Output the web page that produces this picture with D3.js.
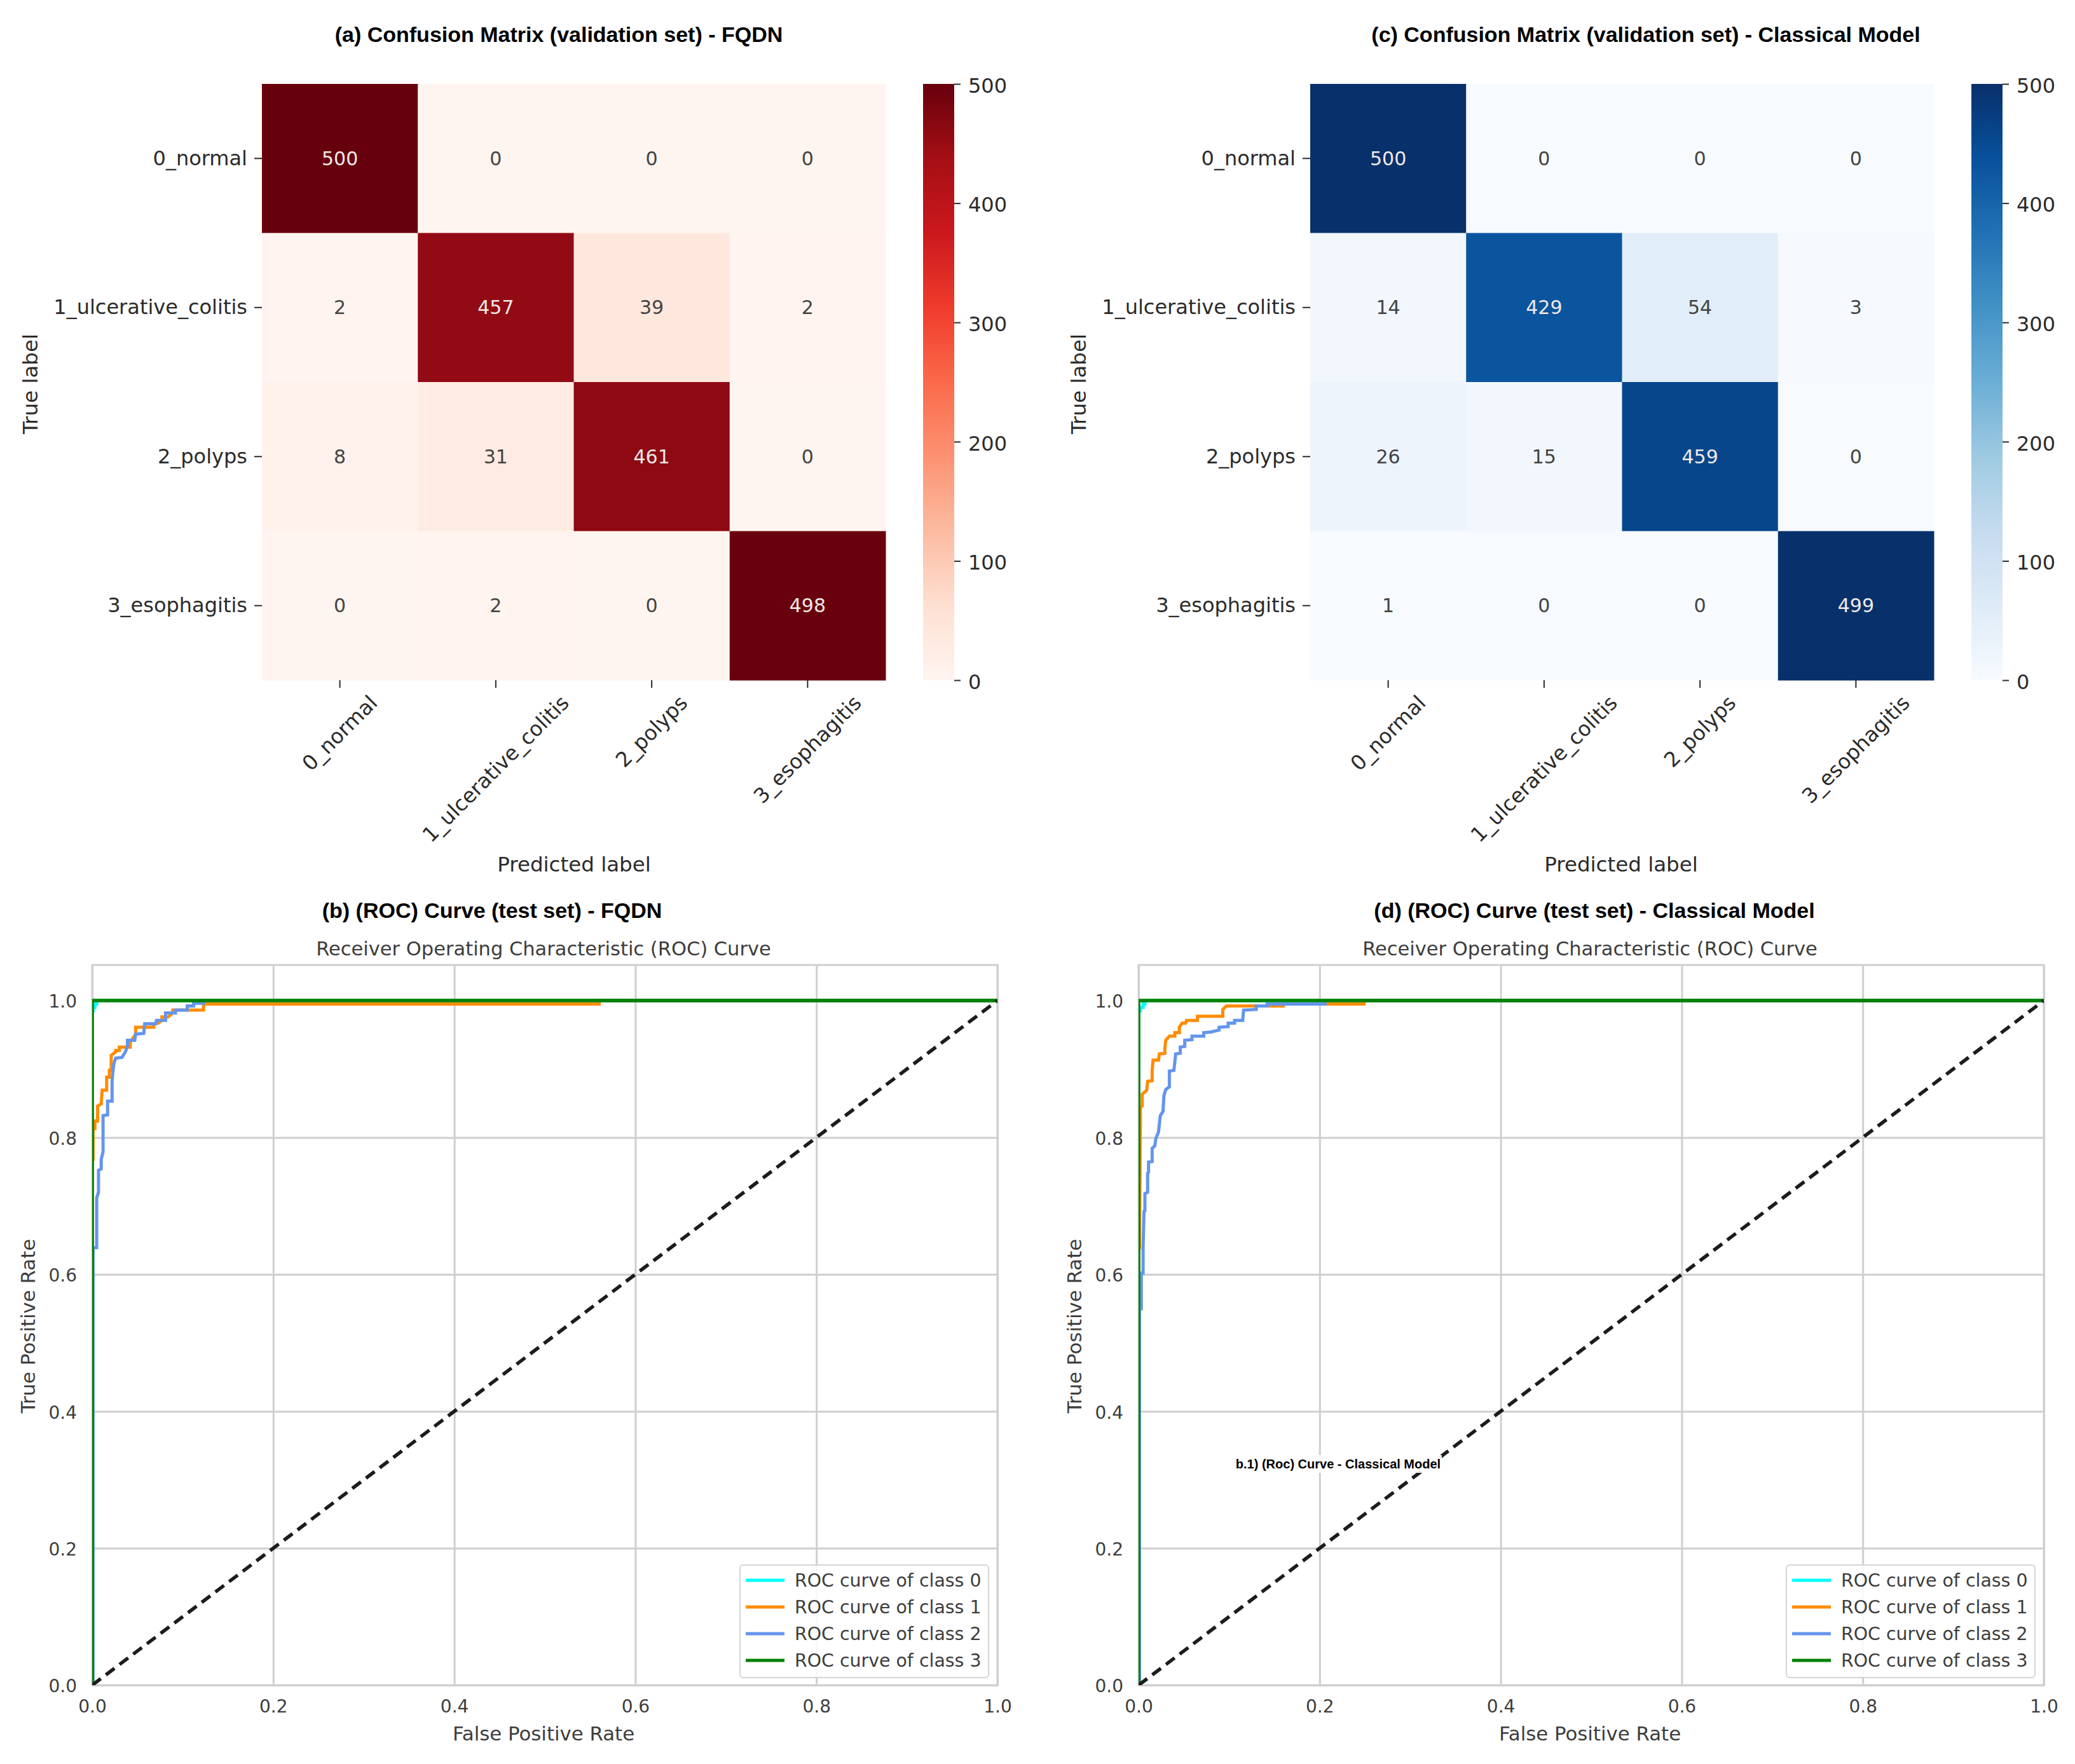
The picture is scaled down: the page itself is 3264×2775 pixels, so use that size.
<!DOCTYPE html>
<html>
<head>
<meta charset="utf-8">
<script src="https://cdnjs.cloudflare.com/ajax/libs/d3/7.8.5/d3.min.js"></script>
<style>
  html, body { margin: 0; padding: 0; background: #fff; }
  text { font-family: "DejaVu Sans", sans-serif; }
  .title { font-family: "Liberation Sans", Arial, sans-serif; font-weight: bold; fill: #000; }
</style>
</head>
<body>
<svg id="chart" width="3264" height="2775"></svg>
<script>
const classNames = ['0_normal', '1_ulcerative_colitis', '2_polyps', '3_esophagitis'];
const matrixFqdn = [
  [500, 0, 0, 0],
  [2, 457, 39, 2],
  [8, 31, 461, 0],
  [0, 2, 0, 498],
];
const matrixClassical = [
  [500, 0, 0, 0],
  [14, 429, 54, 3],
  [26, 15, 459, 0],
  [1, 0, 0, 499],
];
const colorbarTicks = [0, 100, 200, 300, 400, 500];
const rocTicks = [0, 0.2, 0.4, 0.6, 0.8, 1];
const legendLabels = ['ROC curve of class 0', 'ROC curve of class 1', 'ROC curve of class 2', 'ROC curve of class 3'];

// [fpr, tpr] corners
const fqdnClass0 = [[0, 0], [0, 0.985], [0.001, 0.985], [0.001, 0.99], [0.003, 0.99], [0.003, 0.995], [0.005, 0.995], [0.005, 1], [1, 1]];
const fqdnClass1 = [[0, 0], [0, 0.768], [0.001, 0.768], [0.001, 0.813], [0.003, 0.813], [0.003, 0.824], [0.006, 0.824], [0.006, 0.846], [0.01, 0.849], [0.011, 0.869], [0.016, 0.869], [0.016, 0.888], [0.019, 0.888], [0.019, 0.898], [0.021, 0.898], [0.021, 0.92], [0.026, 0.925], [0.026, 0.927], [0.03, 0.927], [0.03, 0.932], [0.042, 0.932], [0.042, 0.939], [0.048, 0.951], [0.048, 0.961], [0.056, 0.961], [0.068, 0.961], [0.068, 0.965], [0.073, 0.967], [0.077, 0.971], [0.077, 0.976], [0.084, 0.976], [0.089, 0.982], [0.089, 0.986], [0.123, 0.986], [0.123, 0.995], [0.56, 0.995], [0.56, 1], [1, 1]];
const fqdnClass2 = [[0, 0], [0.001, 0], [0.001, 0.639], [0.005, 0.639], [0.005, 0.712], [0.007, 0.72], [0.007, 0.752], [0.01, 0.754], [0.01, 0.768], [0.012, 0.779], [0.012, 0.832], [0.017, 0.833], [0.017, 0.853], [0.022, 0.853], [0.022, 0.883], [0.023, 0.898], [0.024, 0.908], [0.026, 0.916], [0.033, 0.917], [0.037, 0.926], [0.039, 0.934], [0.039, 0.942], [0.047, 0.942], [0.048, 0.951], [0.057, 0.952], [0.058, 0.966], [0.07, 0.966], [0.071, 0.971], [0.081, 0.971], [0.081, 0.982], [0.092, 0.982], [0.092, 0.986], [0.105, 0.986], [0.105, 0.992], [0.112, 0.992], [0.112, 0.996], [0.123, 0.996], [0.123, 1], [1, 1]];
const fqdnClass3 = [[0, 0], [0, 1], [1, 1]];

const classicalClass0 = [[0, 0], [0, 0.985], [0.002, 0.985], [0.002, 0.99], [0.005, 0.99], [0.005, 0.995], [0.007, 0.995], [0.007, 1], [1, 1]];
const classicalClass1 = [[0, 0], [0, 0.639], [0.001, 0.639], [0.002, 0.827], [0.002, 0.844], [0.004, 0.846], [0.004, 0.863], [0.009, 0.869], [0.01, 0.882], [0.015, 0.883], [0.015, 0.898], [0.016, 0.913], [0.022, 0.913], [0.023, 0.922], [0.029, 0.923], [0.029, 0.93], [0.03, 0.942], [0.034, 0.948], [0.04, 0.948], [0.04, 0.953], [0.045, 0.953], [0.045, 0.961], [0.048, 0.967], [0.052, 0.967], [0.053, 0.971], [0.065, 0.971], [0.065, 0.977], [0.093, 0.977], [0.093, 0.987], [0.097, 0.992], [0.16, 0.992], [0.16, 0.995], [0.249, 0.995], [0.249, 1], [1, 1]];
const classicalClass2 = [[0, 0], [0.001, 0], [0.001, 0.55], [0.003, 0.55], [0.003, 0.602], [0.005, 0.602], [0.005, 0.641], [0.006, 0.692], [0.007, 0.693], [0.007, 0.718], [0.01, 0.72], [0.01, 0.748], [0.011, 0.749], [0.011, 0.764], [0.015, 0.765], [0.015, 0.784], [0.018, 0.788], [0.019, 0.798], [0.022, 0.808], [0.024, 0.832], [0.027, 0.838], [0.028, 0.861], [0.03, 0.87], [0.034, 0.874], [0.034, 0.897], [0.039, 0.898], [0.041, 0.922], [0.046, 0.923], [0.046, 0.932], [0.051, 0.933], [0.051, 0.942], [0.059, 0.943], [0.059, 0.948], [0.072, 0.948], [0.072, 0.953], [0.08, 0.954], [0.089, 0.957], [0.089, 0.961], [0.099, 0.962], [0.099, 0.967], [0.106, 0.967], [0.106, 0.971], [0.115, 0.971], [0.116, 0.986], [0.13, 0.987], [0.13, 0.992], [0.142, 0.992], [0.142, 0.995], [0.206, 0.995], [0.206, 1], [1, 1]];
const classicalClass3 = [[0, 0], [0, 1], [1, 1]];

const diagonal = [[0, 0], [1, 1]];
const curveColors = ['#00ffff', '#ff8c00', '#6495ed', '#008000'];

const svg = d3.select('#chart');
const textColor = '#2b2b2b';
const rocText = '#3d3d3d';
const gridColor = '#cfcfcf';

function panelTitle(x, y, label, size) {
  svg.append('text').attr('class', 'title')
    .attr('x', x).attr('y', y)
    .attr('text-anchor', 'middle').attr('dominant-baseline', 'central')
    .style('font-size', (size || 34) + 'px')
    .text(label);
}

function heatmap(left, title, titleX, labelX, trueX, matrix, scheme, gradId) {
  const right = left + 981, top = 132, bottom = 1070;
  const cbLeft = left + 1040, cbRight = left + 1089;
  const x = d3.scaleBand().domain(classNames).range([left, right]);
  const y = d3.scaleBand().domain(classNames).range([top, bottom]);
  const color = d3.scaleLinear()
    .domain(d3.range(9).map((i) => (i * 500) / 8))
    .range(scheme);

  panelTitle(titleX, 54, title);

  const g = svg.append('g');
  matrix.forEach((row, r) => {
    row.forEach((v, c) => {
      g.append('rect')
        .attr('x', x(classNames[c]))
        .attr('y', y(classNames[r]))
        .attr('width', x.bandwidth() + 0.5)
        .attr('height', y.bandwidth() + 0.5)
        .attr('fill', color(v));
      g.append('text')
        .attr('x', x(classNames[c]) + x.bandwidth() / 2)
        .attr('y', y(classNames[r]) + y.bandwidth() / 2)
        .attr('text-anchor', 'middle')
        .attr('dominant-baseline', 'central')
        .style('font-size', '30px')
        .attr('fill', v > 250 ? '#f0e8e6' : '#444')
        .text(v);
    });
  });

  const yAxis = svg.append('g')
    .attr('transform', `translate(${left},0)`)
    .call(d3.axisLeft(y).tickSize(12).tickPadding(11));
  yAxis.select('.domain').remove();
  yAxis.selectAll('line').attr('stroke', textColor).attr('stroke-width', 2);
  yAxis.selectAll('text').attr('fill', textColor).style('font-size', '32px');

  const xAxis = svg.append('g')
    .attr('transform', `translate(0,${bottom})`)
    .call(d3.axisBottom(x).tickSize(12).tickFormat(''));
  xAxis.select('.domain').remove();
  xAxis.selectAll('line').attr('stroke', textColor).attr('stroke-width', 2);

  classNames.forEach((name) => {
    const t = svg.append('text')
      .attr('text-anchor', 'middle')
      .attr('dominant-baseline', 'central')
      .attr('fill', textColor)
      .style('font-size', '32.5px')
      .text(name);
    const half = ((t.node().getComputedTextLength() + 34) * Math.SQRT1_2) / 2;
    const cx = x(name) + x.bandwidth() / 2;
    const cy = 1088 + half;
    t.attr('transform', `translate(${cx},${cy}) rotate(-45)`);
  });

  svg.append('text')
    .attr('x', labelX).attr('y', 1360)
    .attr('text-anchor', 'middle').attr('dominant-baseline', 'central')
    .attr('fill', textColor).style('font-size', '32.5px')
    .text('Predicted label');
  svg.append('text')
    .attr('transform', `translate(${trueX},604) rotate(-90)`)
    .attr('text-anchor', 'middle').attr('dominant-baseline', 'central')
    .attr('fill', textColor).style('font-size', '32.5px')
    .text('True label');

  // colorbar
  const grad = svg.append('defs').append('linearGradient')
    .attr('id', gradId)
    .attr('x1', 0).attr('x2', 0).attr('y1', 1).attr('y2', 0);
  d3.range(9).forEach((i) => {
    grad.append('stop')
      .attr('offset', i / 8)
      .attr('stop-color', scheme[i]);
  });
  svg.append('rect')
    .attr('x', cbLeft).attr('y', top)
    .attr('width', cbRight - cbLeft).attr('height', bottom - top)
    .attr('fill', `url(#${gradId})`);
  const cbScale = d3.scaleLinear().domain([0, 500]).range([bottom, top]);
  const cbAxis = svg.append('g')
    .attr('transform', `translate(${cbRight},0)`)
    .call(d3.axisRight(cbScale).tickValues(colorbarTicks).tickSize(10).tickPadding(12).tickFormat(d3.format('d')));
  cbAxis.select('.domain').remove();
  cbAxis.selectAll('line').attr('stroke', textColor).attr('stroke-width', 2);
  cbAxis.selectAll('text').attr('fill', textColor).attr('y', 3).style('font-size', '32px');
}

function rocPanel(left, clipId, title, titleX, curves) {
  const right = left + 1424, top = 1518, bottom = 2651;
  const x = d3.scaleLinear().domain([0, 1]).range([left, right]);
  const y = d3.scaleLinear().domain([0, 1]).range([bottom, 1574]);

  panelTitle(titleX, 1432, title);
  svg.append('text')
    .attr('x', (left + right) / 2 - 2).attr('y', 1492)
    .attr('text-anchor', 'middle').attr('dominant-baseline', 'central')
    .attr('fill', rocText).style('font-size', '30.5px')
    .text('Receiver Operating Characteristic (ROC) Curve');

  const xAxis = svg.append('g')
    .attr('transform', `translate(0,${bottom})`)
    .call(d3.axisBottom(x).tickValues(rocTicks).tickSize(-(bottom - top)).tickPadding(23).tickFormat(d3.format('.1f')));
  const yAxis = svg.append('g')
    .attr('transform', `translate(${left},0)`)
    .call(d3.axisLeft(y).tickValues(rocTicks).tickSize(-(right - left)).tickPadding(24).tickFormat(d3.format('.1f')));
  [xAxis, yAxis].forEach((a) => {
    a.select('.domain').remove();
    a.selectAll('line').attr('stroke', gridColor).attr('stroke-width', 3);
    a.selectAll('text').attr('fill', rocText).style('font-size', '28px');
  });
  yAxis.selectAll('text').attr('y', 2);

  svg.append('rect')
    .attr('x', left).attr('y', top)
    .attr('width', right - left).attr('height', bottom - top)
    .attr('fill', 'none').attr('stroke', gridColor).attr('stroke-width', 3);

  svg.append('defs').append('clipPath').attr('id', clipId)
    .append('rect')
    .attr('x', left).attr('y', top)
    .attr('width', right - left).attr('height', bottom - top);

  const line = d3.line().x((d) => x(d[0])).y((d) => y(d[1]));
  const plot = svg.append('g').attr('clip-path', `url(#${clipId})`);
  curves.forEach((c, i) => {
    plot.append('path')
      .attr('d', line(c))
      .attr('fill', 'none')
      .attr('stroke', curveColors[i])
      .attr('stroke-width', i === 3 ? 5.5 : 5);
  });
  plot.append('path')
    .attr('d', line(diagonal))
    .attr('fill', 'none')
    .attr('stroke', '#1c1c1c')
    .attr('stroke-width', 5.5)
    .attr('stroke-dasharray', '17 10');

  svg.append('text')
    .attr('x', (left + right) / 2 - 2).attr('y', 2727)
    .attr('text-anchor', 'middle').attr('dominant-baseline', 'central')
    .attr('fill', rocText).style('font-size', '30.8px')
    .text('False Positive Rate');
  svg.append('text')
    .attr('transform', `translate(${left - 101},2086) rotate(-90)`)
    .attr('text-anchor', 'middle').attr('dominant-baseline', 'central')
    .attr('fill', rocText).style('font-size', '30.8px')
    .text('True Positive Rate');

  // legend
  const lg = svg.append('g').attr('transform', `translate(${left + 1019},2462)`);
  lg.append('rect')
    .attr('width', 391).attr('height', 177).attr('rx', 5)
    .attr('fill', '#fff').attr('fill-opacity', 0.85)
    .attr('stroke', '#d6d6d6').attr('stroke-width', 2);
  legendLabels.forEach((label, i) => {
    const rowY = 24 + i * 42;
    lg.append('line')
      .attr('x1', 9).attr('x2', 70)
      .attr('y1', rowY).attr('y2', rowY)
      .attr('stroke', curveColors[i]).attr('stroke-width', 5);
    lg.append('text')
      .attr('x', 86).attr('y', rowY)
      .attr('dominant-baseline', 'central')
      .attr('fill', rocText).style('font-size', '28.4px')
      .text(label);
  });
}

heatmap(412, '(a) Confusion Matrix (validation set) - FQDN', 879, 903, 48, matrixFqdn, d3.schemeReds[9], 'cbReds');
heatmap(2061, '(c) Confusion Matrix (validation set) - Classical Model', 2589, 2550, 1697, matrixClassical, d3.schemeBlues[9], 'cbBlues');
rocPanel(145, 'clipFqdn', '(b) (ROC) Curve (test set) - FQDN', 774, [fqdnClass0, fqdnClass1, fqdnClass2, fqdnClass3]);
rocPanel(1791, 'clipClassical', '(d) (ROC) Curve (test set) - Classical Model', 2508, [classicalClass0, classicalClass1, classicalClass2, classicalClass3]);

// stray caption sitting on panel d
svg.append('rect').attr('x', 1942).attr('y', 2289).attr('width', 326).attr('height', 28).attr('fill', '#fff').attr('fill-opacity', 0.9);
panelTitle(2105, 2303, 'b.1) (Roc) Curve - Classical Model', 20);
</script>
</body>
</html>
